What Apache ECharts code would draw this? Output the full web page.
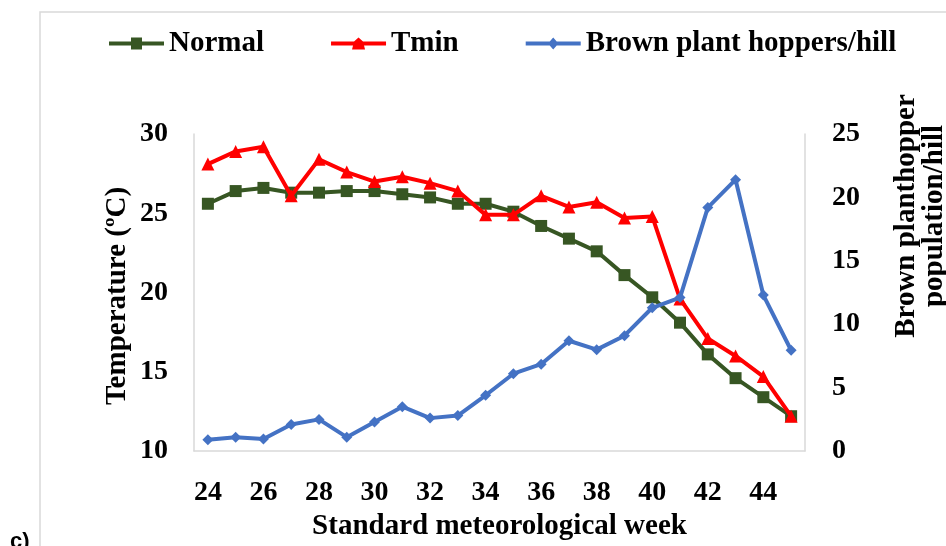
<!DOCTYPE html>
<html>
<head>
<meta charset="utf-8">
<script src="https://cdn.jsdelivr.net/npm/echarts@6/dist/echarts.min.js"></script>
<style>
  html, body { margin: 0; padding: 0; background: #fff; }
  #chart { width: 946px; height: 546px; }
</style>
</head>
<body>
<div id="chart"></div>
<script>
// Standard meteorological weeks 24–45
const weeks = ['24','25','26','27','28','29','30','31','32','33','34','35','36','37','38','39','40','41','42','43','44','45'];

// Normal minimum temperature (°C)
const normalTemp = [25.6, 26.4, 26.6, 26.3, 26.3, 26.4, 26.4, 26.2, 26.0, 25.6, 25.6, 25.1, 24.2, 23.4, 22.6, 21.1, 19.7, 18.1, 16.1, 14.6, 13.4, 12.2];

// Observed minimum temperature (°C)
const tminTemp = [28.1, 28.9, 29.2, 26.1, 28.4, 27.6, 27.0, 27.3, 26.9, 26.4, 24.9, 24.9, 26.1, 25.4, 25.7, 24.7, 24.8, 19.6, 17.1, 16.0, 14.7, 12.2];

// Brown plant hopper population per hill
const bphPerHill = [0.9, 1.1, 0.95, 2.1, 2.5, 1.1, 2.3, 3.5, 2.6, 2.8, 4.4, 6.1, 6.85, 8.7, 8.0, 9.1, 11.3, 12.1, 19.2, 21.4, 12.3, 7.95];

const serif = '"Liberation Serif", "Times New Roman", serif';
const axisGray = '#d9d9d9';

// Legend icons: a thick line with the series marker in the middle (55 x 12 box)
const iconSquare = 'path://M0,4L22,4L22,0L33,0L33,4L55,4L55,8L33,8L33,12L22,12L22,8L0,8Z';
const iconTriangle = 'path://M0,4L23,4L27.5,0L32,4L55,4L55,8L33,8L34,12L21,12L22,8L0,8Z';
const iconDiamond = 'path://M0,4L24,4L27.5,0L31,4L55,4L55,8L31,8L27.5,12L24,8L0,8Z';

const chart = echarts.init(document.getElementById('chart'));

chart.setOption({
  animation: false,
  backgroundColor: '#ffffff',
  grid: { left: 194, right: 141, top: 134, bottom: 87, containLabel: false },
  legend: {
    left: 109,
    top: 29,
    padding: 0,
    itemWidth: 55,
    itemHeight: 12,
    itemGap: 67,
    symbolKeepAspect: true,
    textStyle: { fontFamily: serif, fontWeight: 'bold', fontSize: 29, color: '#000' },
    data: [
      { name: 'Normal', icon: iconSquare },
      { name: 'Tmin', icon: iconTriangle },
      { name: 'Brown plant hoppers/hill', icon: iconDiamond }
    ]
  },
  xAxis: {
    type: 'category',
    data: weeks,
    boundaryGap: true,
    axisLine: { show: true, lineStyle: { color: axisGray, width: 1.5 } },
    axisTick: { show: false },
    axisLabel: { interval: 1, margin: 28, fontFamily: serif, fontWeight: 'bold', fontSize: 28, color: '#000' },
    name: 'Standard meteorological week',
    nameLocation: 'middle',
    nameGap: 57,
    nameTextStyle: { fontFamily: serif, fontWeight: 'bold', fontSize: 29, color: '#000' }
  },
  yAxis: [
    {
      type: 'value',
      min: 10,
      max: 30,
      interval: 5,
      splitLine: { show: false },
      axisLine: { show: true, lineStyle: { color: axisGray, width: 1.5 } },
      axisTick: { show: false },
      axisLabel: { margin: 26, fontFamily: serif, fontWeight: 'bold', fontSize: 28, color: '#000' }
    },
    {
      type: 'value',
      min: 0,
      max: 25,
      interval: 5,
      position: 'right',
      splitLine: { show: false },
      axisLine: { show: true, lineStyle: { color: axisGray, width: 1.5 } },
      axisTick: { show: false },
      axisLabel: { margin: 27, fontFamily: serif, fontWeight: 'bold', fontSize: 28, color: '#000' }
    }
  ],
  graphic: [
    {
      type: 'rect',
      silent: true,
      z: -1,
      shape: { x: 40, y: 12, width: 1000, height: 700 },
      style: { fill: null, stroke: '#d9d9d9', lineWidth: 1.5 }
    },
    {
      type: 'text',
      x: 118,
      y: 296,
      rotation: Math.PI / 2,
      style: {
        text: 'Temperature (ºC)',
        font: 'bold 29px ' + serif,
        fill: '#000',
        align: 'center',
        verticalAlign: 'middle'
      }
    },
    {
      type: 'text',
      x: 921,
      y: 216,
      rotation: Math.PI / 2,
      style: {
        text: 'Brown planthopper\npopulation/hill',
        font: 'bold 29px ' + serif,
        lineHeight: 28,
        fill: '#000',
        align: 'center',
        verticalAlign: 'middle'
      }
    },
    {
      type: 'text',
      left: 10,
      top: 531,
      style: {
        text: 'c)',
        font: 'bold 22px "Liberation Sans", Arial, sans-serif',
        fill: '#000'
      }
    }
  ],
  series: [
    {
      name: 'Normal',
      type: 'line',
      yAxisIndex: 0,
      data: normalTemp,
      symbol: 'rect',
      symbolSize: 12,
      lineStyle: { width: 4, color: '#375623' },
      itemStyle: { color: '#375623' },
      z: 2
    },
    {
      name: 'Tmin',
      type: 'line',
      yAxisIndex: 0,
      data: tminTemp,
      symbol: 'triangle',
      symbolSize: 13,
      lineStyle: { width: 4, color: '#ff0000' },
      itemStyle: { color: '#ff0000' },
      z: 3
    },
    {
      name: 'Brown plant hoppers/hill',
      type: 'line',
      yAxisIndex: 1,
      data: bphPerHill,
      symbol: 'diamond',
      symbolSize: 11,
      lineStyle: { width: 4, color: '#4472c4' },
      itemStyle: { color: '#4472c4' },
      z: 4
    }
  ]
});
</script>
</body>
</html>
